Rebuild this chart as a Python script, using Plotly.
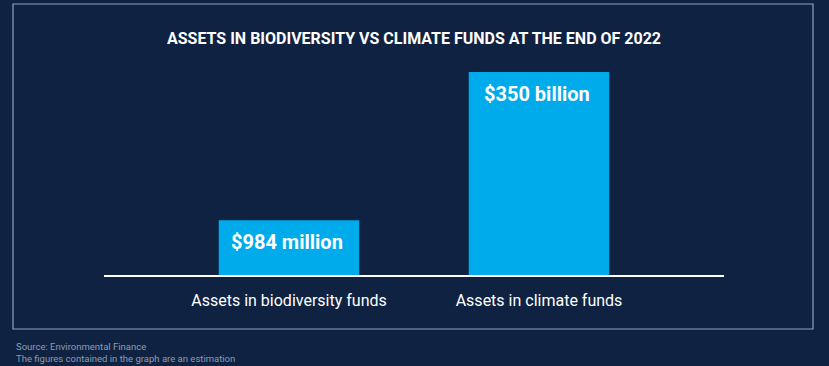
import plotly.graph_objects as go

# Data (bars are illustrative, not to scale)
categories = ["Assets in biodiversity funds", "Assets in climate funds"]
bar_heights = [27, 100]  # displayed relative heights
value_labels = ["$984 million", "$350 billion"]

title_text = "ASSETS IN BIODIVERSITY VS CLIMATE FUNDS AT THE END OF 2022"
source_lines = ["Source: Environmental Finance",
                "The figures contained in the graph are an estimation"]

BG = "#0f2242"
BAR = "#00abeb"
W, H = 829, 366
L, R, T, B = 104, 105, 72, 91
pw, ph = W - L - R, H - T - B

def px_x(x):
    return (x - L) / pw

def px_y(y):
    return (H - B - y) / ph

fig = go.Figure(go.Bar(
    x=categories, y=bar_heights, marker=dict(color=BAR, line=dict(width=0)),
    width=0.562, hoverinfo="skip"))

annotations = []
for c, v, lab in zip(categories, bar_heights, value_labels):
    annotations.append(dict(x=c, y=v, xref="x", yref="y", text=f"<b>{lab}</b>",
                            showarrow=False, yanchor="top", yshift=-8, xshift=-2,
                            font=dict(family="Roboto", size=20, color="white")))
annotations.append(dict(x=px_x(14), y=px_y(339), xref="paper", yref="paper",
                        xanchor="left", yanchor="top", align="left",
                        text="<br>".join(source_lines), showarrow=False,
                        font=dict(family="Roboto", size=9.5, color="#8f9bb0")))

fig.update_layout(
    width=W, height=H,
    margin=dict(l=L, r=R, t=T, b=B),
    paper_bgcolor=BG, plot_bgcolor=BG,
    showlegend=False,
    title=dict(text=f"<b>{title_text}</b>", x=0.5, xanchor="center",
               xref="paper", y=1 - 38 / H, yanchor="middle", yref="container",
               font=dict(family="Roboto", size=16, color="white")),
    xaxis=dict(range=[-0.74, 1.74], showgrid=False, zeroline=False,
               showline=True, linecolor="white", linewidth=2,
               ticks="outside", ticklen=10, tickcolor="rgba(0,0,0,0)",
               tickfont=dict(family="Roboto", size=16, color="white"),
               fixedrange=True),
    yaxis=dict(range=[0, 100], visible=False, fixedrange=True),
    annotations=annotations,
    shapes=[dict(type="rect", xref="paper", yref="paper",
                 x0=px_x(13), x1=px_x(813), y0=px_y(329), y1=px_y(4),
                 line=dict(color="#8fa3bf", width=1.2), layer="below")],
)

fig.write_html("out.html", config={"displayModeBar": False},
               post_script="document.body.style.margin='0';document.body.style.background='%s';" % BG)
